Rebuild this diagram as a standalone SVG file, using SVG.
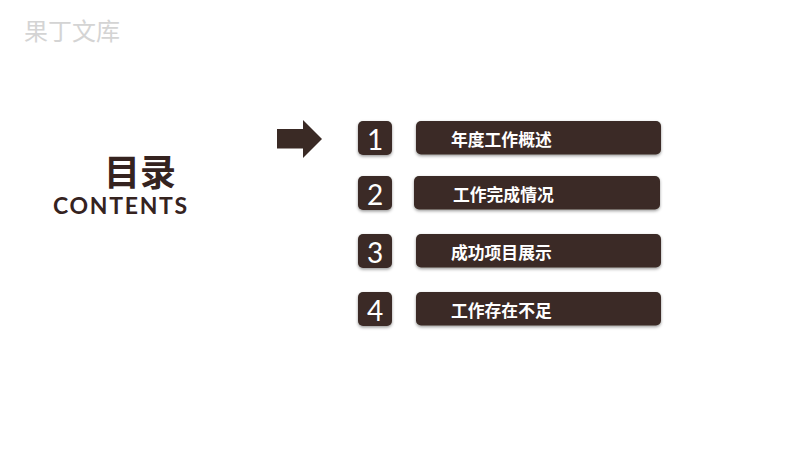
<svg xmlns="http://www.w3.org/2000/svg" width="800" height="450" viewBox="0 0 800 450">
<defs>
<filter id="sh" x="-20%" y="-30%" width="140%" height="170%"><feDropShadow dx="0" dy="1.5" stdDeviation="1.5" flood-color="#000" flood-opacity="0.4"/></filter>
</defs>
<style>
.box{fill:#3a2a25;filter:url(#sh)}
.num{font-family:"Lato","Liberation Sans",sans-serif;font-weight:400;font-size:28px;fill:#fff;text-anchor:middle}
.lab{font-family:"Noto Sans CJK SC",sans-serif;font-size:16.8px;font-weight:700;fill:#fff}
</style>
<rect width="800" height="450" fill="#fff"/>
<text id="watermark" x="24" y="40" font-family="'Noto Sans CJK SC',sans-serif" font-size="24" fill="#d4d4d4">果丁文库</text>
<g id="title">
<text x="104" y="186" font-family="'Noto Sans CJK SC',sans-serif" font-size="36" font-weight="700" fill="#35231f">目录</text>
<text x="53" y="213.500" font-family="'Lato','Liberation Sans',sans-serif" font-size="23" font-weight="700" letter-spacing="1.700" fill="#35231f">CONTENTS</text>
</g>
<g id="connectors"><polygon points="277,129 303,129 303,120 322,139 303,158 303,148.500 277,148.500" fill="#3a2a25"/></g>
<g id="n1"><rect class="box" x="358" y="121" width="34" height="34" rx="5"/><text class="num" x="375" y="150">1</text></g>
<g id="l1"><rect class="box" x="416" y="121" width="245" height="33.500" rx="5"/><text class="lab" x="451" y="146">年度工作概述</text></g>
<g id="n2"><rect class="box" x="358" y="176" width="34" height="34" rx="5"/><text class="num" x="375" y="205">2</text></g>
<g id="l2"><rect class="box" x="414" y="176" width="246" height="33.500" rx="5"/><text class="lab" x="453" y="201">工作完成情况</text></g>
<g id="n3"><rect class="box" x="358" y="234" width="34" height="34" rx="5"/><text class="num" x="375" y="263">3</text></g>
<g id="l3"><rect class="box" x="416" y="234" width="245" height="33.500" rx="5"/><text class="lab" x="451" y="259">成功项目展示</text></g>
<g id="n4"><rect class="box" x="358" y="292" width="34" height="34" rx="5"/><text class="num" x="375" y="321">4</text></g>
<g id="l4"><rect class="box" x="416" y="292" width="245" height="33.500" rx="5"/><text class="lab" x="451" y="317">工作存在不足</text></g>
</svg>
